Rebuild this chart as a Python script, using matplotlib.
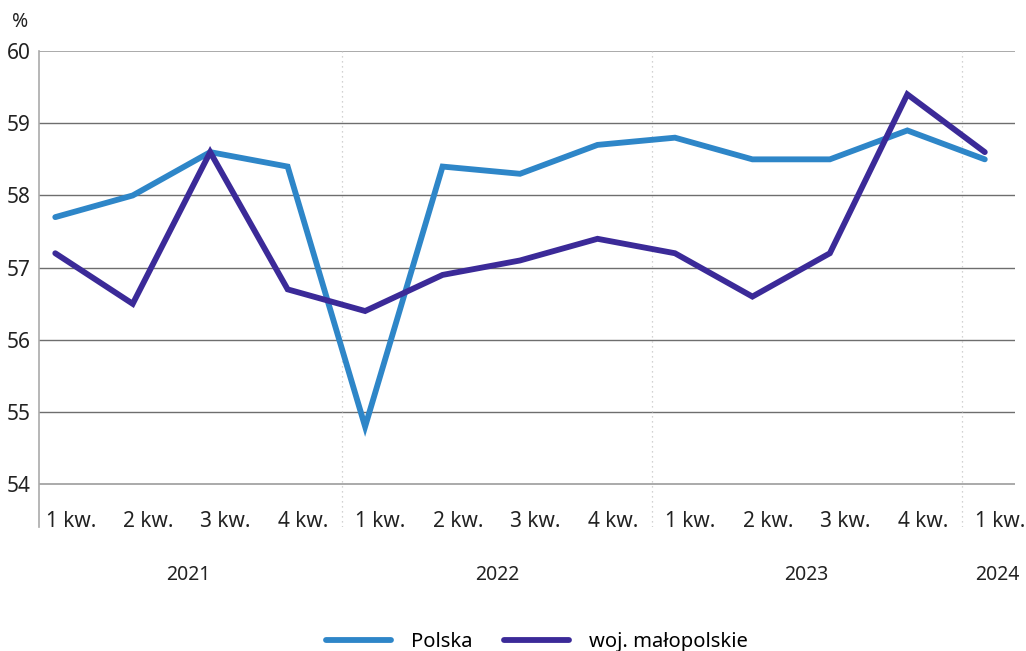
import matplotlib.pyplot as plt
from matplotlib.transforms import blended_transform_factory

# quarterly values, 2021 Q1 .. 2024 Q1
quarters = ["1 kw.", "2 kw.", "3 kw.", "4 kw.",
            "1 kw.", "2 kw.", "3 kw.", "4 kw.",
            "1 kw.", "2 kw.", "3 kw.", "4 kw.",
            "1 kw."]
years = ["2021", "2022", "2023", "2024"]
polska = [57.7, 58.0, 58.6, 58.4, 54.8, 58.4, 58.3, 58.7, 58.8, 58.5, 58.5, 58.9, 58.5]
malopolskie = [57.2, 56.5, 58.6, 56.7, 56.4, 56.9, 57.1, 57.4, 57.2, 56.6, 57.2, 59.4, 58.6]
yticks = [54, 55, 56, 57, 58, 59, 60]

c_pl = "#2e86c8"
c_mp = "#3b2a98"
txt = "#222222"
plt.rcParams["font.family"] = ["Noto Sans", "DejaVu Sans"]

fig = plt.figure(figsize=(10.26, 6.51), dpi=100)
ax = fig.add_axes([39 / 1026, 1 - 527 / 651, (1015 - 39) / 1026, (527 - 51) / 651])

x = list(range(len(polska)))
ax.set_xlim(-0.21, 12.39)
ax.set_ylim(53.41, 60)

# gridlines
for v in yticks:
    edge = v in (54, 60)
    ax.axhline(v, color="#aaaaaa" if edge else "#6e6e6e", lw=1.4 if edge else 1.0, zorder=1)

# year separators
for s in [3.7, 7.7, 11.7]:
    ax.axvline(s, color="#c4c4c4", lw=0.9, ls=(0, (1, 3)), zorder=1)

l1, = ax.plot(x, polska, color=c_pl, lw=4.2, solid_capstyle="round", solid_joinstyle="miter", zorder=3, label="Polska")
l2, = ax.plot(x, malopolskie, color=c_mp, lw=4.2, solid_capstyle="round", solid_joinstyle="miter", zorder=3, label="woj. małopolskie")

for sp in ["top", "right", "bottom"]:
    ax.spines[sp].set_visible(False)
ax.spines["left"].set_color("#aaaaaa")
ax.spines["left"].set_linewidth(1.2)

ax.set_xticks([])
ax.set_yticks(yticks)
ax.tick_params(axis="y", length=0, pad=6, labelsize=15, labelcolor=txt)

# quarter labels inside axes, under the 54 line
for i, q in enumerate(quarters):
    ax.text(i + 0.2, 53.48, q, ha="center", va="center", fontsize=15, color=txt)

# year labels below
tr = blended_transform_factory(ax.transData, fig.transFigure)
for xp, yr in zip([1.72, 5.7, 9.69, 12.16], years):
    ax.text(xp, 1 - 575 / 651, yr, transform=tr, ha="center", va="center", fontsize=14, color=txt)

fig.text(12 / 1026, 1 - 22 / 651, "%", ha="left", va="center", fontsize=14, color=txt)

fig.legend(handles=[l1, l2], loc="center", bbox_to_anchor=(537 / 1026, 1 - 642 / 651),
           ncol=2, frameon=False, fontsize=14.5, handlelength=3.2, columnspacing=1.6,
           handletextpad=1.0)

fig.savefig("out.png", dpi=100)
